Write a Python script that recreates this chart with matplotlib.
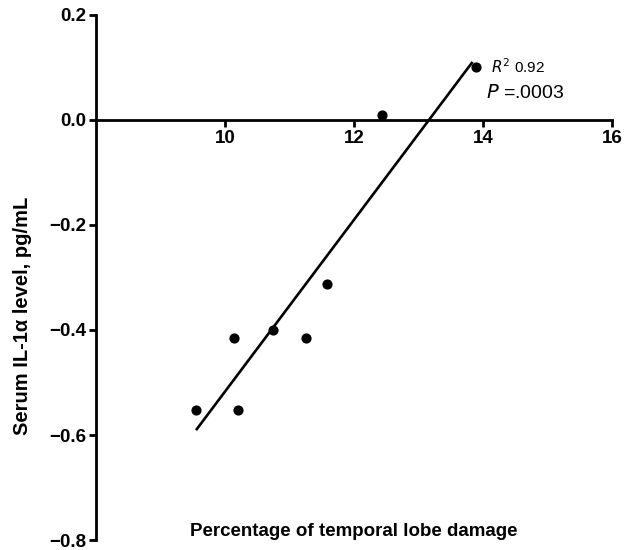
import matplotlib.pyplot as plt
import numpy as np

plt.rcParams['font.family'] = ['Liberation Sans', 'DejaVu Sans']

# percentage of temporal lobe damage vs. serum IL-1a
damage_pct = [9.55, 10.14, 10.20, 10.74, 11.26, 11.58, 12.43, 13.90]
il1a_level = [-0.552, -0.415, -0.552, -0.400, -0.415, -0.312, 0.010, 0.100]

x_ticks = [10, 12, 14, 16]
y_ticks = [0.2, 0.0, -0.2, -0.4, -0.6, -0.8]

r_squared = "0.92"
p_value = ".0003"

fig = plt.figure(figsize=(6.36, 5.5), dpi=100)
ax = fig.add_axes([0.151, 0.018, 0.811, 0.955])

# least-squares line over the observed range
slope, intercept = np.polyfit(damage_pct, il1a_level, 1)
fit_x = np.array([min(damage_pct), 13.84])
ax.plot(fit_x, slope * fit_x + intercept, color='black', lw=1.9, solid_capstyle='butt')

ax.scatter(damage_pct, il1a_level, s=40, color='black', zorder=3)

ax.set_xlim(8, 16)
ax.set_ylim(-0.8, 0.2)

ax.spines['top'].set_visible(False)
ax.spines['right'].set_visible(False)
ax.spines['bottom'].set_position(('data', 0))
for side in ('left', 'bottom'):
    ax.spines[side].set_linewidth(2.0)

ax.set_xticks(x_ticks)
ax.set_yticks(y_ticks)
ax.set_yticklabels([f"{v:.1f}".replace('-', '\u2212') for v in y_ticks])
ax.tick_params(direction='out', length=5, width=2.0, labelsize=13.5, pad=2)
for lbl in ax.get_xticklabels() + ax.get_yticklabels():
    lbl.set_fontweight('bold')

ax.text(12.0, -0.783, "Percentage of temporal lobe damage", ha='center', va='center',
        fontsize=13.5, fontweight='bold')
fig.text(0.035, 1 - 316 / 550, "Serum IL-1\u03b1 level, pg/mL", rotation=90,
         ha='center', va='center', fontsize=14.5, fontweight='semibold')

ax.text(14.13, 0.101, r"$R^2$" + f" {r_squared}", ha='left', va='center', fontsize=11)
ax.text(14.05, 0.051, r"$P$" + f" ={p_value}", ha='left', va='center', fontsize=14)

fig.savefig("out.png", dpi=100)
